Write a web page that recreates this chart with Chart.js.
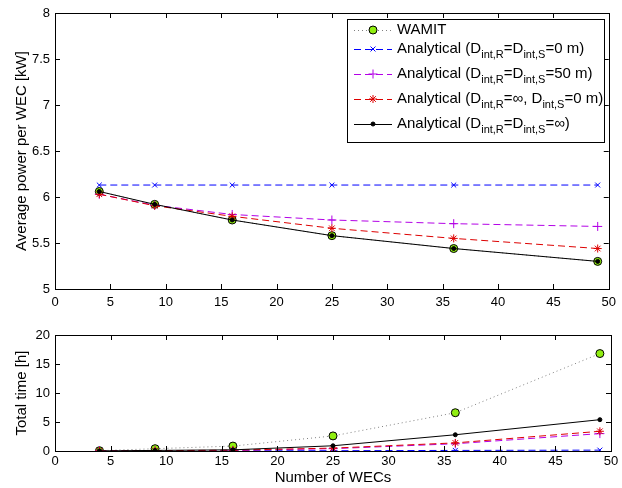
<!DOCTYPE html>
<html>
<head>
<meta charset="utf-8">
<script src="https://cdn.jsdelivr.net/npm/chart.js@4.4.1/dist/chart.umd.min.js"></script>
<style>
  body { margin: 0; background: #fff; }
  #wrap { position: relative; width: 622px; height: 488px; }
  canvas { position: absolute; left: 0; }
</style>
</head>
<body>
<div id="wrap">
  <canvas id="powerChart" width="622" height="310" style="top:0"></canvas>
  <canvas id="timeChart" width="622" height="178" style="top:310px"></canvas>
</div>
<script>
// ===== data =====
const nWECs = [4, 9, 16, 25, 36, 49];

// average power per WEC [kW]
const powerWamit = [6.06, 5.92, 5.75, 5.58, 5.44, 5.30];
const powerZero = [6.13, 6.13, 6.13, 6.13, 6.13, 6.13];
const power50 = [6.03, 5.91, 5.81, 5.75, 5.71, 5.68];
const powerInfZero = [6.03, 5.905, 5.79, 5.66, 5.55, 5.44];
const powerInf = [6.06, 5.92, 5.75, 5.58, 5.44, 5.30];

// total time [h]
const timeWamit = [0.05, 0.4, 0.85, 2.6, 6.6, 16.8];
const timeZero = [0.01, 0.02, 0.03, 0.05, 0.1, 0.15];
const time50 = [0.01, 0.03, 0.1, 0.4, 1.25, 3.0];
const timeInfZero = [0.01, 0.05, 0.15, 0.5, 1.4, 3.4];
const timeInf = [0.02, 0.1, 0.2, 0.9, 2.8, 5.4];

// tick labels
const xTicks = [0, 5, 10, 15, 20, 25, 30, 35, 40, 45, 50];
const powerTicks = [5, 5.5, 6, 6.5, 7, 7.5, 8];
const timeTicks = [0, 5, 10, 15, 20];

// legend texts, [text, isSubscript]
const legendLabels = [
  [["WAMIT", 0]],
  [["Analytical (D", 0], ["int,R", 1], ["=D", 0], ["int,S", 1], ["=0 m)", 0]],
  [["Analytical (D", 0], ["int,R", 1], ["=D", 0], ["int,S", 1], ["=50 m)", 0]],
  [["Analytical (D", 0], ["int,R", 1], ["=\u221E, D", 0], ["int,S", 1], ["=0 m)", 0]],
  [["Analytical (D", 0], ["int,R", 1], ["=D", 0], ["int,S", 1], ["=\u221E)", 0]]
];

Chart.defaults.font.family = "'Liberation Sans', Arial, sans-serif";
Chart.defaults.color = "#000";

// series styles
const styles = [
  { color: "#808080", dash: [1, 3], point: "circle", r: 4, fill: "#90ee10", pointBorder: "#000", order: 4 },
  { color: "#0000ff", dash: [7, 4], point: "crossRot", r: 3.5, fill: "#0000ff", pointBorder: "#0000ff", order: 3 },
  { color: "#b300e6", dash: [7, 4], point: "cross", r: 4.5, fill: "#b300e6", pointBorder: "#b300e6", order: 2 },
  { color: "#dd0000", dash: [7, 4], point: "star", r: 4, fill: "#dd0000", pointBorder: "#dd0000", order: 1 },
  { color: "#000000", dash: [], point: "circle", r: 2, fill: "#000000", pointBorder: "#000000", order: 0 }
];

function makeDatasets(series) {
  return series.map(function (vals, i) {
    const s = styles[i];
    return {
      data: nWECs.map(function (x, k) { return { x: x, y: vals[k] }; }),
      showLine: true,
      borderColor: s.color,
      borderWidth: 1,
      borderDash: s.dash,
      pointStyle: s.point,
      pointRadius: s.r,
      pointBackgroundColor: s.fill,
      pointBorderColor: s.pointBorder,
      pointBorderWidth: 1,
      order: s.order
    };
  });
}

// matlab-like box with inward ticks
const boxPlugin = {
  id: "box",
  afterDraw(chart) {
    const ctx = chart.ctx;
    const a = chart.chartArea;
    const xs = chart.scales.x, ys = chart.scales.y;
    ctx.save();
    ctx.strokeStyle = "#000";
    ctx.lineWidth = 1;
    ctx.setLineDash([]);
    ctx.beginPath();
    xs.ticks.forEach(function (t) {
      const px = Math.round(xs.getPixelForValue(t.value)) + 0.5;
      ctx.moveTo(px, a.bottom); ctx.lineTo(px, a.bottom - 5);
      ctx.moveTo(px, a.top); ctx.lineTo(px, a.top + 5);
    });
    ys.ticks.forEach(function (t) {
      const py = Math.round(ys.getPixelForValue(t.value)) + 0.5;
      ctx.moveTo(a.left, py); ctx.lineTo(a.left + 5, py);
      ctx.moveTo(a.right, py); ctx.lineTo(a.right - 5, py);
    });
    ctx.stroke();
    ctx.strokeRect(Math.round(a.left) + 0.5, Math.round(a.top) + 0.5,
      Math.round(a.right - a.left), Math.round(a.bottom - a.top));
    ctx.restore();
  }
};

// legend with subscripts
const legendPlugin = {
  id: "subLegend",
  afterDraw(chart) {
    const ctx = chart.ctx;
    const bx = 347.5, by = 19.5, bw = 257, bh = 123;
    const rows = [30, 49, 74, 99, 124];
    ctx.save();
    ctx.fillStyle = "#fff";
    ctx.fillRect(bx, by, bw, bh);
    ctx.strokeStyle = "#000";
    ctx.lineWidth = 1;
    ctx.strokeRect(bx, by, bw, bh);
    legendLabels.forEach(function (parts, i) {
      const s = styles[i];
      const y = rows[i];
      ctx.strokeStyle = s.color;
      ctx.setLineDash(s.dash);
      ctx.beginPath();
      ctx.moveTo(354, y + 0.5);
      ctx.lineTo(392, y + 0.5);
      ctx.stroke();
      ctx.setLineDash([]);
      ctx.fillStyle = s.fill;
      ctx.strokeStyle = s.pointBorder;
      Chart.helpers.drawPoint(ctx, { pointStyle: s.point, radius: s.r, rotation: 0, borderWidth: 1 }, 373, y);
      let x = 397;
      ctx.fillStyle = "#000";
      ctx.textBaseline = "middle";
      parts.forEach(function (p) {
        ctx.font = (p[1] ? "11px" : "15px") + " 'Liberation Sans', Arial, sans-serif";
        ctx.fillText(p[0], x, p[1] ? y + 6 : y);
        x += ctx.measureText(p[0]).width;
      });
    });
    ctx.restore();
  }
};

function tickSetter(arr) {
  return function (scale) { scale.ticks = arr.map(function (v) { return { value: v }; }); };
}

function makeChart(id, series, yMin, yMax, yTicks, yTitle, xTitle, pad, xHeight, xPad, extra) {
  return new Chart(document.getElementById(id), {
    type: "scatter",
    data: { datasets: makeDatasets(series) },
    options: {
      responsive: false,
      animation: false,
      events: [],
      layout: { padding: pad },
      plugins: { legend: { display: false }, tooltip: { enabled: false } },
      scales: {
        x: {
          type: "linear", min: 0, max: 50,
          afterBuildTicks: tickSetter(xTicks),
          afterFit: function (s) { s.height = xHeight; },
          grid: { display: false, drawTicks: false },
          border: { display: false },
          ticks: { font: { size: 13 }, padding: xPad, maxRotation: 0, callback: function (v) { return String(v); } },
          title: { display: !!xTitle, text: xTitle, font: { size: 15 }, padding: { top: 0, bottom: 1 } }
        },
        y: {
          type: "linear", min: yMin, max: yMax,
          afterBuildTicks: tickSetter(yTicks),
          afterFit: function (s) { s.width = 55; },
          grid: { display: false, drawTicks: false },
          border: { display: false },
          ticks: { font: { size: 13 }, padding: 5, callback: function (v) { return String(v); } },
          title: { display: true, text: yTitle, font: { size: 15 }, padding: { top: 13, bottom: 0 } }
        }
      }
    },
    plugins: extra
  });
}

makeChart("powerChart", [powerWamit, powerZero, power50, powerInfZero, powerInf],
  5, 8, powerTicks, "Average power per WEC [kW]", "", { top: 13, right: 11, left: 0, bottom: 0 }, 21, 6,
  [boxPlugin, legendPlugin]);

makeChart("timeChart", [timeWamit, timeZero, time50, timeInfZero, timeInf],
  0, 20, timeTicks, "Total time [h]", "Number of WECs", { top: 25, right: 11, left: 0, bottom: 0 }, 37, 3,
  [boxPlugin]);
</script>
</body>
</html>
